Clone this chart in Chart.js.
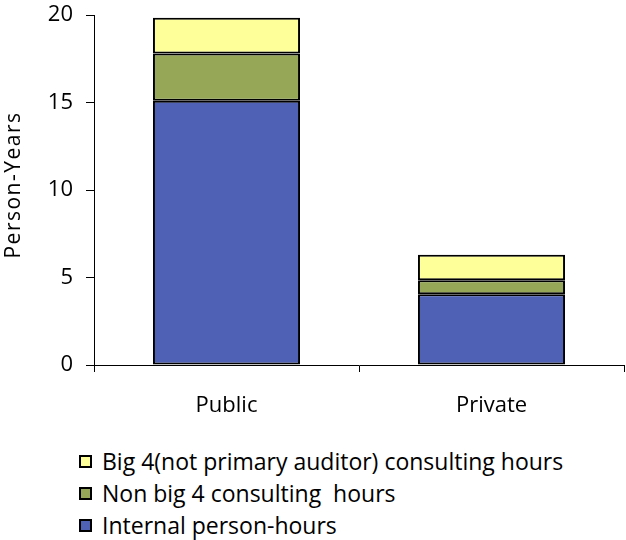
<!DOCTYPE html>
<html>
<head>
<meta charset="utf-8">
<script src="https://cdn.jsdelivr.net/npm/chart.js@4.4.0/dist/chart.umd.min.js"></script>
<style>
  body { margin: 0; background: #fff; font-family: "Open Sans", sans-serif; }
  #wrap { position: relative; width: 626px; height: 430px; }
  #legend { position: absolute; left: 79px; top: 445px; margin: 0; padding: 0; list-style: none; }
  #legend li { height: 32px; line-height: 32px; font-size: 23px; color: #000; white-space: pre; display: flex; align-items: center; }
  #legend span.box { display: inline-block; width: 9px; height: 9px; border: 2px solid #000; margin-right: 10px; }
</style>
</head>
<body>
<div id="wrap"><canvas id="chartHeures"></canvas></div>
<ul id="legend"></ul>
<script>
// Données
const categories = ['Public', 'Private'];
const internes = [15.1, 4.05];
const nonBig4 = [2.7, 0.8];
const big4 = [2.05, 1.45];
const yTicks = [0, 5, 10, 15, 20];
const titreY = 'Person-Years';

const couleurs = {
    internes: '#4F61B4',
    nonBig4: '#96A857',
    big4: '#FFFF99'
};

// Titre de l'axe Y avec espacement des lettres
const titreAxe = {
    id: 'titreAxe',
    afterDraw: function(chart) {
        const ctx = chart.ctx;
        const area = chart.chartArea;
        ctx.save();
        ctx.translate(14, (area.top + area.bottom) / 2 - 5);
        ctx.rotate(-Math.PI / 2);
        ctx.font = '21px "Open Sans"';
        ctx.letterSpacing = '1.5px';
        ctx.fillStyle = '#000';
        ctx.textAlign = 'center';
        ctx.textBaseline = 'middle';
        ctx.fillText(titreY, 0, 0);
        ctx.restore();
    }
};

document.addEventListener('DOMContentLoaded', function() {
    const canvas = document.getElementById('chartHeures');
    canvas.width = 626;
    canvas.height = 430;

    const datasets = [
        { label: 'Internal person-hours', data: internes, backgroundColor: couleurs.internes },
        { label: 'Non big 4 consulting  hours', data: nonBig4, backgroundColor: couleurs.nonBig4 },
        { label: 'Big 4(not primary auditor) consulting hours', data: big4, backgroundColor: couleurs.big4 }
    ].map(function(d) {
        return Object.assign(d, {
            borderColor: '#000',
            borderWidth: 2,
            borderSkipped: false,
            barPercentage: 0.555,
            categoryPercentage: 1
        });
    });

    const chart = new Chart(canvas.getContext('2d'), {
        type: 'bar',
        data: { labels: categories, datasets: datasets },
        plugins: [titreAxe],
        options: {
            responsive: false,
            animation: false,
            layout: { padding: { top: 0, right: 2, left: 0, bottom: 0 } },
            plugins: { legend: { display: false }, tooltip: { enabled: false } },
            scales: {
                x: {
                    stacked: true,
                    grid: { drawOnChartArea: false, color: '#000', tickLength: 7, offset: true },
                    border: { color: '#000', width: 1 },
                    ticks: { color: '#000', font: { family: 'Open Sans', size: 22 }, padding: 21, maxRotation: 0 },
                    afterFit: function(scale) { scale.height = 65; }
                },
                y: {
                    stacked: true,
                    min: 0,
                    max: 20,
                    afterBuildTicks: function(scale) {
                        scale.ticks = yTicks.map(function(v) { return { value: v }; });
                    },
                    grid: { drawOnChartArea: false, color: '#000', tickLength: 8 },
                    border: { color: '#000', width: 1 },
                    ticks: { color: '#000', font: { family: 'Open Sans', size: 22 }, padding: 13 },
                    afterFit: function(scale) {
                        scale.width = 94;
                        scale.paddingTop = 15;
                        scale.paddingBottom = 0;
                    }
                }
            }
        }
    });

    // Légende HTML, ordre inversé comme sur l'original
    const legende = document.getElementById('legend');
    datasets.slice().reverse().forEach(function(d) {
        const li = document.createElement('li');
        const box = document.createElement('span');
        box.className = 'box';
        box.style.background = d.backgroundColor;
        li.appendChild(box);
        li.appendChild(document.createTextNode(d.label));
        legende.appendChild(li);
    });
});
</script>
</body>
</html>
